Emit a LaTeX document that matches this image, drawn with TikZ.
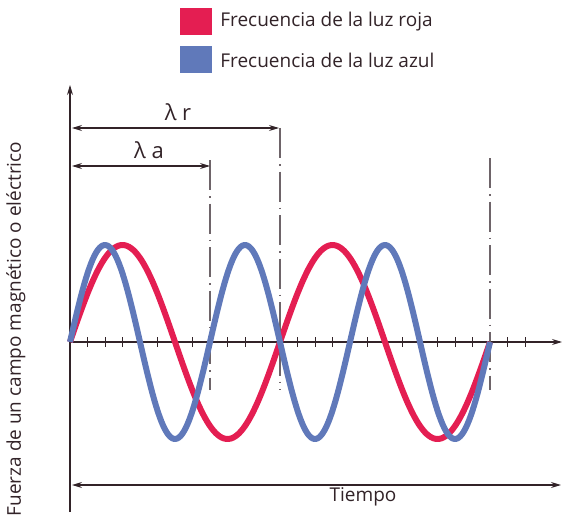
\documentclass[tikz,border=0pt]{standalone}
\usepackage{fontspec}
\setmainfont{Open Sans}
\usetikzlibrary{positioning, arrows.meta, calc}
\definecolor{wavered}{RGB}{228, 30, 82}
\definecolor{waveblue}{RGB}{96, 121, 186}
\definecolor{axisdark}{RGB}{50, 35, 40}
\definecolor{guidegray}{RGB}{110, 100, 105}

\begin{document}
\begin{tikzpicture}[x=1pt, y=-1pt,
    axisline/.style={axisdark, line width=1.1pt},
    tipend/.style={-{Stealth[length=10pt, width=6pt]}},
    bothtips/.style={{Stealth[length=10pt, width=6pt]}-{Stealth[length=10pt, width=6pt]}},
    guideline/.style={guidegray, line width=1.1pt, dash pattern=on 30pt off 6pt on 1.5pt off 6pt},
    wave/.style={line width=6pt, line join=round},
    txt/.style={font=\fontsize{19}{22}\selectfont, text=axisdark, inner sep=1pt},
    keybox/.style={minimum width=32pt, minimum height=27pt, inner sep=0pt}]
    \useasboundingbox (0,0) rectangle (562,516);

    % Legend
    \node[keybox, fill=wavered] (keyred) at (196,21.5) {};
    \node[txt, right=7pt of keyred] (txtred) {Frecuencia de la luz roja};
    \node[keybox, fill=waveblue, below=11pt of keyred] (keyblue) {};
    \node[txt, right=7pt of keyblue] (txtblue) {Frecuencia de la luz azul};

    % Axes
    \coordinate (origin) at (70,342);
    \coordinate (ytop) at (70,85);
    \coordinate (ybot) at (70,512);
    \coordinate (xend) at (562,342);
    \draw[axisline, tipend] (ybot) -- (ytop);
    \draw[axisline, tipend] (origin) -- (xend);
    \foreach \k in {1,...,26}
        \draw[axisline, line width=0.9pt] ({70+17.5*\k},337) -- ({70+17.5*\k},347);
    \node[txt, rotate=90] (ylab) at (16,329) {Fuerza de un campo magnético o eléctrico};

    % Guide lines
    \foreach \gx/\gtop in {210/160, 280/128, 490/158}
        \draw[guideline] (\gx,\gtop) -- (\gx,390);

    % Wavelengths
    \coordinate (rleft) at (72,128);
    \coordinate (rright) at (279,128);
    \coordinate (aleft) at (72,166);
    \coordinate (aright) at (210,166);
    \draw[axisline, bothtips] (rleft) -- (rright);
    \draw[axisline, bothtips] (aleft) -- (aright);
    \node[txt, font=\fontsize{22}{25}\selectfont] (lamr) at (178,112) {λ r};
    \node[txt, font=\fontsize{22}{25}\selectfont] (lama) at (149,150) {λ a};

    % Waves
    \draw[wave, wavered] plot[domain=0:720, samples=200] ({70+0.583333*\x}, {342-97*sin(\x)});
    \draw[wave, waveblue] plot[domain=0:1080, samples=240] ({70+0.388889*\x}, {342-97*sin(\x)});

    % Time
    \coordinate (tleft) at (72,485);
    \coordinate (tright) at (561,485);
    \draw[axisline, bothtips] (tleft) -- (tright);
    \node[txt] (tiempo) at (363,497) {Tiempo};
\end{tikzpicture}
\end{document}
